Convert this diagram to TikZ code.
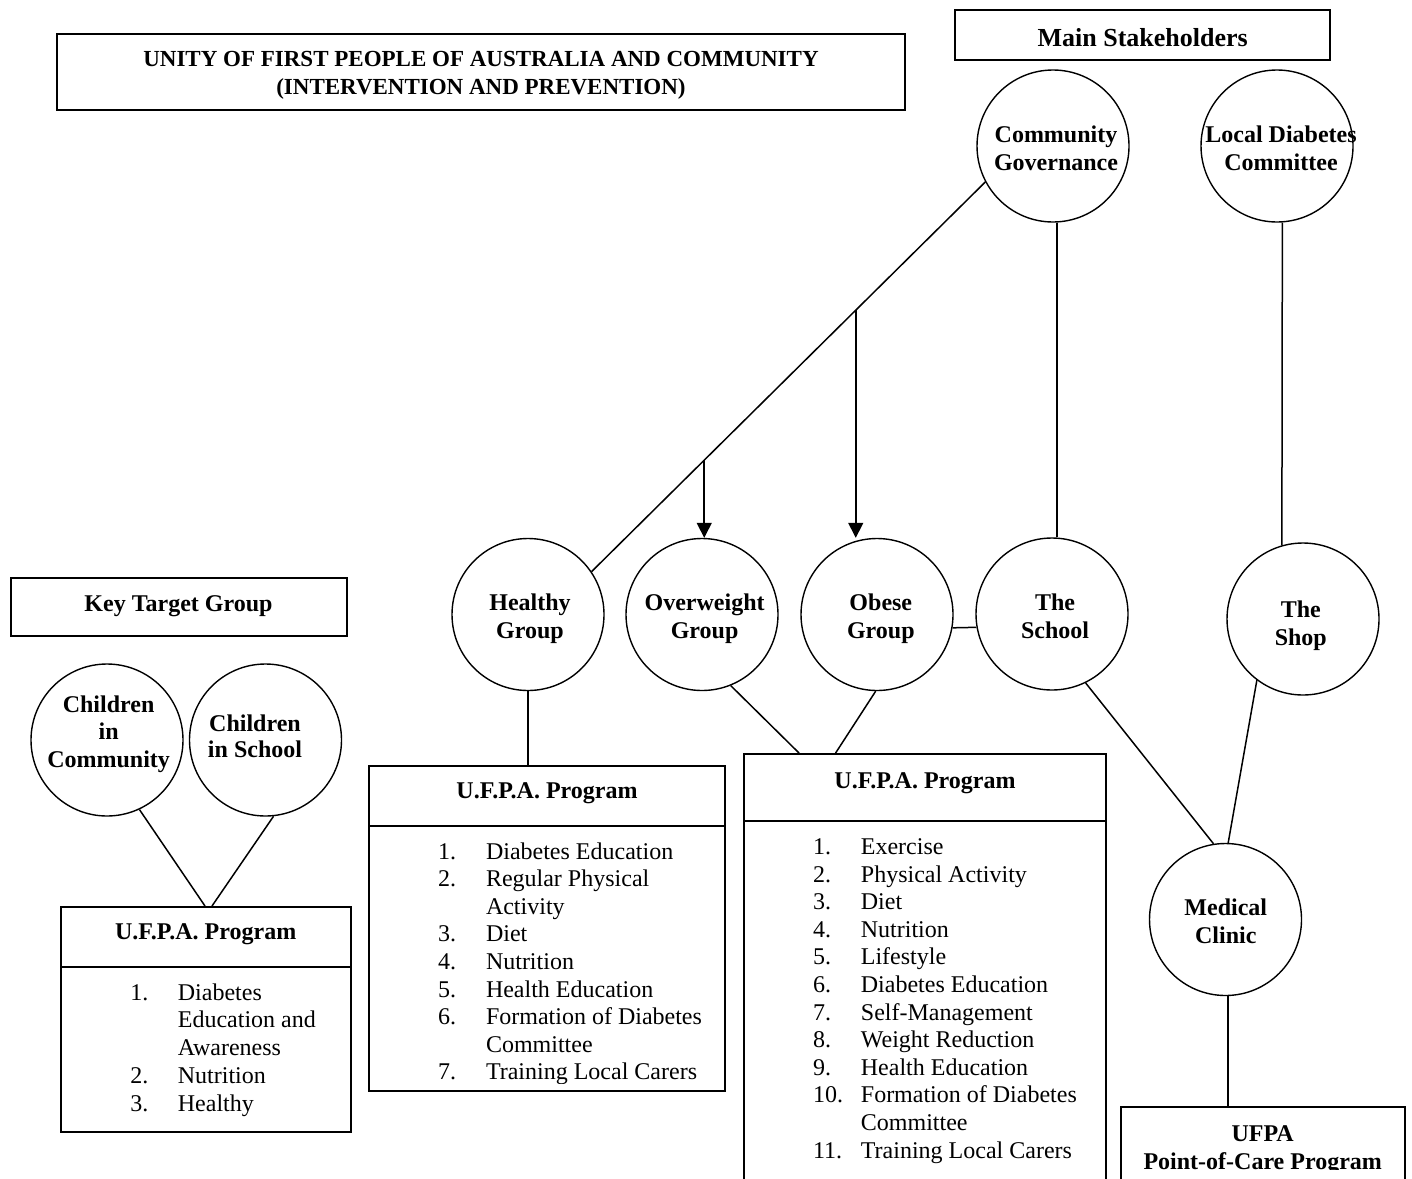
\documentclass[tikz,border=0pt]{standalone}
\usepackage{fontspec}
\setmainfont{Liberation Serif}
\usetikzlibrary{arrows.meta,calc}
\newcommand{\mlines}[1]{\begin{tabular}[t]{@{}c@{}}#1\end{tabular}}
\begin{document}
\begin{tikzpicture}[x=0.5pt,y=-0.5pt,
  boxs/.style={draw, line width=1pt, inner sep=0pt},
  circs/.style={draw, circle, line width=0.7pt, minimum size=76pt, inner sep=0pt},
  conn/.style={line width=0.75pt},
  arr/.style={conn, -{Triangle[width=7.5pt,length=7.5pt]}},
  bt/.style={font=\bfseries\fontsize{12}{14}\selectfont, inner sep=0pt, anchor=base},
  lt/.style={font=\fontsize{12}{13.8}\selectfont, inner sep=0pt, anchor=base west}]
\useasboundingbox (0,0) rectangle (1412,1178);
\fill[white] (0,0) rectangle (1412,1178);

% ---------- boxes ----------
\node[boxs, minimum width=424pt, minimum height=38pt] (title) at (481,72) {};
\node[boxs, minimum width=187.5pt, minimum height=25pt] (stake) at (1142.5,35) {};
\node[boxs, minimum width=168.25pt, minimum height=29pt] (ktg) at (178.75,607) {};
\node[boxs, minimum width=145pt, minimum height=112.5pt] (lbox) at (206,1019.5) {};
\node[boxs, minimum width=178pt, minimum height=162.75pt] (mbox) at (547,928.25) {};
\node[boxs, minimum width=181pt, minimum height=214pt] (rbox) at (925,968) {};
\node[boxs, minimum width=142pt, minimum height=41.5pt] (poc) at (1263,1148.5) {};

\draw[line width=1pt] (lbox.west |- 0,967) -- (lbox.east |- 0,967);
\draw[line width=1pt] (mbox.west |- 0,826) -- (mbox.east |- 0,826);
\draw[line width=1pt] (rbox.west |- 0,821) -- (rbox.east |- 0,821);

% ---------- circles ----------
\node[circs] (cg) at (1053,146) {};
\node[circs] (ldc) at (1277,146) {};
\node[circs] (hg) at (528,614.5) {};
\node[circs] (og) at (702,614.5) {};
\node[circs] (obg) at (877,614.5) {};
\node[circs] (sch) at (1052,614) {};
\node[circs] (shop) at (1303,619) {};
\node[circs] (mc) at (1225.5,919.5) {};
\node[circs] (cic) at (107,740) {};
\node[circs] (cis) at (265.5,740) {};

% ---------- headings ----------
\node[bt, font=\bfseries\fontsize{11.5}{14.1}\selectfont] (titlet) at (481,66.7)
  {\mlines{UNITY OF FIRST PEOPLE OF AUSTRALIA AND COMMUNITY\\(INTERVENTION AND PREVENTION)}};
\node[bt, font=\bfseries\fontsize{13}{15}\selectfont] (staket) at (1142.7,46) {Main Stakeholders};
\node[bt] (ktgt) at (178.5,611.4) {Key Target Group};
\node[bt] (lboxt) at (205.7,939.6) {U.F.P.A. Program};
\node[bt] (mboxt) at (547,798) {U.F.P.A. Program};
\node[bt] (rboxt) at (925,788) {U.F.P.A. Program};
\begin{scope}
  \clip (1121,1107) rectangle (1405,1169);
  \node[bt] (poct) at (1262.7,1141.7) {\mlines{UFPA\\Point-of-Care Program}};
\end{scope}

% ---------- circle texts ----------
\node[bt] (cgt) at (1056,142) {\mlines{Community\\Governance}};
\node[bt] (ldct) at (1281,142) {\mlines{Local Diabetes\\Committee}};
\node[bt] (hgt) at (530,610) {\mlines{Healthy\\Group}};
\node[bt] (ogt) at (704.6,610) {\mlines{Overweight\\Group}};
\node[bt] (obgt) at (880.8,610) {\mlines{Obese\\Group}};
\node[bt] (scht) at (1055,610) {\mlines{The\\School}};
\node[bt] (shopt) at (1300.8,617) {\mlines{The\\Shop}};
\node[bt] (mct) at (1225.8,915) {\mlines{Medical\\Clinic}};
\node[bt, font=\bfseries\fontsize{12}{13.9}\selectfont] (cict) at (108.6,712) {\mlines{Children\\in\\Community}};
\node[bt, font=\bfseries\fontsize{12}{13.4}\selectfont] (cist) at (255,731) {\mlines{Children\\in School}};

% ---------- lists ----------
\foreach \t [count=\k from 0] in {Diabetes, Education and, Awareness, Nutrition, Healthy}
  \node[lt] (lt\k) at (177.5,1000+27.75*\k) {\t};
\foreach \n/\k in {1./0, 2./3, 3./4}
  \node[lt] (ln\k) at (130,1000+27.75*\k) {\n};

\begin{scope}
  \clip (369,826) rectangle (725,1083);
  \foreach \t [count=\k from 0] in {Diabetes Education, Regular Physical, Activity, Diet, Nutrition, Health Education, Formation of Diabetes, Committee, Training Local Carers}
    \node[lt] (mt\k) at (485.6,859+27.6*\k) {\t};
  \foreach \n/\k in {1./0, 2./1, 3./3, 4./4, 5./5, 6./6, 7./8}
    \node[lt] (mn\k) at (437.8,859+27.6*\k) {\n};
\end{scope}

\foreach \t [count=\k from 0] in {Exercise, Physical Activity, Diet, Nutrition, Lifestyle, Diabetes Education, Self-Management, Weight Reduction, Health Education, Formation of Diabetes, Committee, Training Local Carers}
  \node[lt] (rt\k) at (860.5,854.4+27.6*\k) {\t};
\foreach \n/\k in {1./0, 2./1, 3./2, 4./3, 5./4, 6./5, 7./6, 8./7, 9./8, 10./9, 11./11}
  \node[lt] (rn\k) at (812.6,854.4+27.6*\k) {\n};

% ---------- connectors ----------
\draw[conn] (cg.208) -- (hg.34);
\coordinate (d1) at ($(cg.208)!0.7139!(hg.34)$);
\coordinate (d2) at ($(cg.208)!0.329!(hg.34)$);
\draw[arr] (d1) -- (d1 |- og.north);
\draw[arr] (d2) -- (d2 |- obg.north);
\draw[conn] (cg.-87) -- (cg.-87 |- sch.north);
\draw[conn] (ldc.-86) -- (shop.106);
\draw[conn] (obg.-10) -- (sch.190);
\draw[conn] (hg.south) -- (hg.south |- mbox.north);
\draw[conn] (og.-68) -- ($(rbox.north west)+(56,0)$);
\draw[conn] (obg.-91) -- ($(rbox.north west)+(92.6,0)$);
\draw[conn] (sch.-64) -- (mc.99);
\draw[conn] (shop.-127) -- (mc.88);
\draw[conn] (mc.-88) -- (mc.-88 |- poc.north);
\draw[conn] (cic.-65) -- ($(lbox.north west)+(145,0)$);
\draw[conn] (cis.-84) -- ($(lbox.north west)+(152,0)$);
\end{tikzpicture}
\end{document}
